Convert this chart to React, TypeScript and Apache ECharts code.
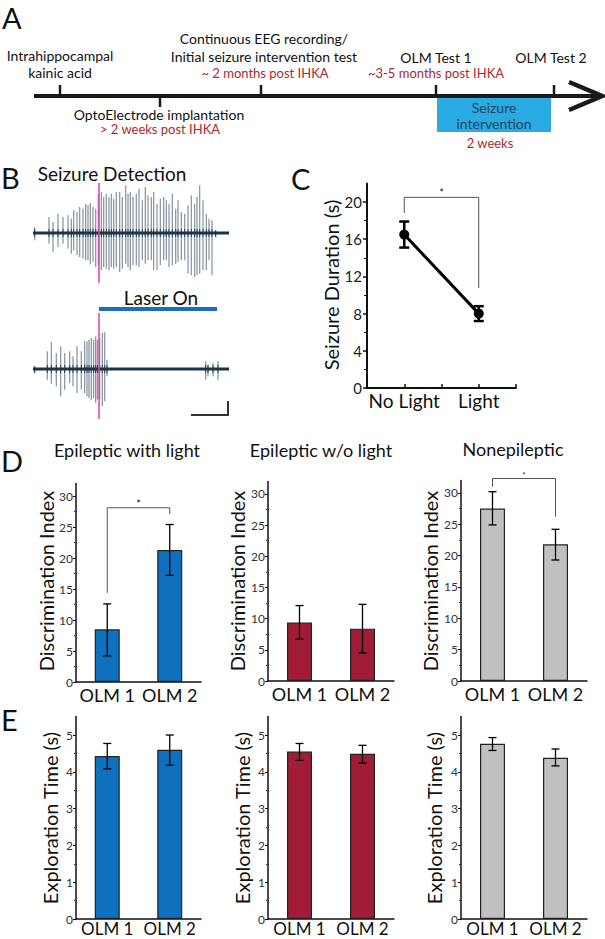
import React, { useEffect, useRef } from 'react';
import * as echarts from 'echarts';

const FONT = 'Lato, "Open Sans", sans-serif';

// ---------- Panel B: EEG traces, each spike = [time, peak, trough] ----------
const traceSpan = [100, 688];
const seizureTrace = [
  [105, 18, -22], [148, 48, -32], [160, 33, -57], [175, 58, -42], [190, 48, -32],
  [205, 53, -47], [215, 43, -62], [222, 68, -52], [232, 63, -67], [240, 78, -72],
  [250, 73, -77], [258, 88, -82], [265, 83, -82], [272, 90, -92], [280, 78, -87],
  [288, 73, -102], [296, 118, -97], [305, 123, -112], [312, 108, -102], [320, 118, -107],
  [328, 108, -112], [335, 118, -102], [342, 103, -107], [350, 123, -102], [360, 123, -117],
  [368, 108, -107], [378, 143, -92], [385, 118, -102], [392, 123, -112], [400, 108, -97],
  [410, 118, -97], [418, 133, -102], [428, 98, -82], [437, 138, -92], [445, 113, -82],
  [455, 108, -82], [462, 123, -112], [472, 88, -112], [482, 103, -97], [492, 108, -82],
  [500, 98, -82], [508, 88, -102], [518, 118, -97], [528, 73, -92], [535, 98, -87],
  [545, 63, -82], [555, 58, -82], [565, 83, -122], [575, 113, -127], [585, 88, -132],
  [592, 108, -127], [600, 143, -122], [610, 98, -112], [620, 58, -112], [628, 43, -82],
  [637, 38, -127], [648, 8, -12],
];
const laserTrace = [
  [105, 8, -12], [143, 53, -32], [155, 80, -44], [170, 48, -52], [183, 68, -82],
  [195, 48, -62], [210, 53, -42], [220, 38, -52], [232, 68, -72], [245, 53, -62],
  [255, 83, -72], [262, 83, -82], [268, 88, -87], [275, 93, -92], [282, 88, -87],
  [288, 98, -102], [293, 88, -92], [300, 93, -92], [308, 108, -112], [315, 110, -97],
  [322, 28, -22], [618, 23, -32], [625, 13, -22], [640, 18, -22], [655, 23, -32],
];
const detectionTime = 296;

// ---------- Panel C ----------
const cCategories = ['No Light', 'Light'];
const cMeans = [16.5, 8.0];
const cErr = [[15.1, 17.9], [7.2, 8.8]];
const cTicks = [0, 4, 8, 12, 16, 20];
const cBracket = [1, 18.8, 20.5, 2, 10.75, 21.3];

// ---------- Panel D: discrimination index ----------
const olmCategories = ['OLM 1', 'OLM 2'];
const diTicks = [0, 5, 10, 15, 20, 25, 30];
const diWithLight = [8.5, 21.3];
const diWithLightErr = [[4.2, 12.6], [17.2, 25.4]];
const diWithoutLight = [9.4, 8.4];
const diWithoutLightErr = [[6.7, 12.1], [4.5, 12.3]];
const diNonEpi = [27.5, 21.8];
const diNonEpiErr = [[24.9, 30.2], [19.3, 24.2]];
const diWithLightBracket = [0, 14.35, 28.1, 1, 27.1, 29.2];
const diNonEpiBracket = [0, 31.0, 32.3, 1, 26.2, 33.4];

// ---------- Panel E: exploration time ----------
const exTicks = [0, 1, 2, 3, 4, 5];
const exWithLight = [4.43, 4.6];
const exWithLightErr = [[4.08, 4.77], [4.18, 5.0]];
const exWithoutLight = [4.55, 4.49];
const exWithoutLightErr = [[4.31, 4.77], [4.24, 4.72]];
const exNonEpi = [4.76, 4.38];
const exNonEpiErr = [[4.58, 4.93], [4.16, 4.62]];

const BLUE = '#0f70bd';
const RED = '#a11c37';
const GRAY = '#c0c0c0';
const TXT_RED = '#b0282c';

function spikeSeries(gi: number, data: number[][]) {
  return {
    type: 'custom', xAxisIndex: gi, yAxisIndex: gi, data, z: 2,
    renderItem: (_p: any, api: any) => {
      const t = api.value(0);
      const top = api.coord([t, api.value(1)]);
      const bot = api.coord([t, api.value(2)]);
      const base = api.coord([t, 0]);
      return {
        type: 'group', children: [
          { type: 'line', shape: { x1: top[0], y1: top[1], x2: bot[0], y2: bot[1] }, style: { stroke: '#8d9aa8', lineWidth: 1.3 } },
          { type: 'line', shape: { x1: base[0], y1: Math.max(top[1], base[1] - 4), x2: base[0], y2: Math.min(bot[1], base[1] + 4) }, style: { stroke: '#2a4256', lineWidth: 1 } },
        ],
      };
    },
  };
}

function baselineSeries(gi: number) {
  return {
    type: 'line', xAxisIndex: gi, yAxisIndex: gi, z: 3,
    data: [[traceSpan[0], 0], [traceSpan[1], 0]],
    symbol: 'none', lineStyle: { color: '#1d3346', width: 3 },
    markLine: {
      symbol: 'none', silent: true, label: { show: false },
      lineStyle: { color: '#d645a6', width: 1.5, type: 'solid' },
      data: [{ xAxis: detectionTime }],
    },
  };
}

function errSeries(gi: number, errs: number[][], lw: number, cap: number) {
  return {
    type: 'custom', xAxisIndex: gi, yAxisIndex: gi, z: 5,
    data: errs.map((e, i) => [i, e[0], e[1]]),
    renderItem: (_p: any, api: any) => {
      const x = api.value(0);
      const lo = api.coord([x, api.value(1)]);
      const hi = api.coord([x, api.value(2)]);
      const st = { stroke: '#000', lineWidth: lw };
      return {
        type: 'group', children: [
          { type: 'line', shape: { x1: lo[0], y1: lo[1], x2: hi[0], y2: hi[1] }, style: st },
          { type: 'line', shape: { x1: hi[0] - cap, y1: hi[1], x2: hi[0] + cap, y2: hi[1] }, style: st },
          { type: 'line', shape: { x1: lo[0] - cap, y1: lo[1], x2: lo[0] + cap, y2: lo[1] }, style: st },
        ],
      };
    },
  };
}

function bracketSeries(gi: number, b: number[], starSize: number) {
  return {
    type: 'custom', xAxisIndex: gi, yAxisIndex: gi, z: 4, clip: false,
    data: [b],
    renderItem: (_p: any, api: any) => {
      const a = api.coord([api.value(0), api.value(1)]);
      const p1 = api.coord([api.value(0), api.value(2)]);
      const p2 = api.coord([api.value(3), api.value(2)]);
      const d = api.coord([api.value(3), api.value(4)]);
      const s = api.coord([api.value(0), api.value(5)]);
      return {
        type: 'group', children: [
          { type: 'polyline', shape: { points: [a, p1, p2, d] }, style: { stroke: '#555', lineWidth: 1, fill: 'none' } },
          { type: 'text', x: (p1[0] + p2[0]) / 2, y: s[1] + 3, style: { text: '*', fontSize: starSize, fill: '#222', align: 'center', verticalAlign: 'middle', fontFamily: FONT } },
        ],
      };
    },
  };
}

function barSeries(gi: number, values: number[], color: string) {
  return {
    type: 'bar', xAxisIndex: gi, yAxisIndex: gi, data: values, barWidth: 25, z: 2,
    itemStyle: { color, borderColor: '#222', borderWidth: 1.2 },
  };
}

function catX(gi: number, margin: number, size: number) {
  return {
    type: 'category', gridIndex: gi, data: olmCategories,
    axisLine: { lineStyle: { color: '#111', width: 1.5 } },
    axisTick: { show: false },
    axisLabel: { interval: 0, hideOverlap: false, fontSize: size, color: '#111', margin, fontFamily: FONT },
  };
}

function valY(gi: number, max: number, interval: number, ticks: number[]) {
  return {
    type: 'value', gridIndex: gi, min: 0, max, interval,
    splitLine: { show: false },
    axisLine: { show: true, lineStyle: { color: '#111', width: 1.5 } },
    axisTick: { show: true, length: 3, customValues: ticks, lineStyle: { color: '#111', width: 1 } },
    minorTick: { show: true, splitNumber: 2, length: 2, lineStyle: { color: '#333', width: 1 } },
    axisLabel: { customValues: ticks, fontSize: 12, color: '#333', margin: 3, fontFamily: FONT },
  };
}

function txt(text: string, x: number, y: number, size: number, color = '#111', align = 'center', extra: any = {}) {
  return { type: 'text', x, y, ...extra, style: { text, fontSize: size, fontFamily: FONT, fill: color, align, verticalAlign: 'middle' } };
}
function vtxt(text: string, x: number, y: number, size: number) {
  return txt(text, x, y, size, '#111', 'center', { rotation: Math.PI / 2 });
}
function seg(x1: number, y1: number, x2: number, y2: number, w: number, color = '#1a1a1a') {
  return { type: 'line', shape: { x1, y1, x2, y2 }, style: { stroke: color, lineWidth: w } };
}

function buildOption() {
  const grids = [
    { left: 33, top: 183, width: 196, height: 100 },
    { left: 33, top: 313, width: 196, height: 106 },
    { left: 367, top: 183.4, width: 149, height: 204.6 },
    { left: 76, top: 483.6, width: 125, height: 198.4 },
    { left: 268, top: 481.5, width: 126, height: 199.5 },
    { left: 461, top: 480.4, width: 126, height: 200.6 },
    { left: 76, top: 716.6, width: 125, height: 202.4 },
    { left: 268, top: 716.6, width: 126, height: 202.4 },
    { left: 461, top: 716.6, width: 126, height: 202.4 },
  ].map((g) => ({ ...g, containLabel: false, outerBoundsMode: 'none' }));

  const xAxis: any[] = [
    { type: 'value', gridIndex: 0, min: traceSpan[0], max: traceSpan[1], show: false },
    { type: 'value', gridIndex: 1, min: traceSpan[0], max: traceSpan[1], show: false },
    {
      type: 'value', gridIndex: 2, min: 0.5, max: 2.5, interval: 0.5,
      splitLine: { show: false },
      axisLine: { lineStyle: { color: '#111', width: 2 } },
      axisTick: { inside: true, length: 4, lineStyle: { color: '#111', width: 1.5 } },
      axisLabel: {
        customValues: [1, 2], fontSize: 19, color: '#111', margin: 3, fontFamily: FONT, hideOverlap: false,
        formatter: (v: number) => cCategories[Math.round(v) - 1] || '',
      },
    },
    catX(3, 4, 18), catX(4, 4, 18), catX(5, 4, 18), catX(6, 1, 17), catX(7, 1, 17), catX(8, 1, 17),
  ];
  const yAxis: any[] = [
    { type: 'value', gridIndex: 0, min: -150, max: 150, show: false },
    { type: 'value', gridIndex: 1, min: -150, max: 168, show: false },
    {
      type: 'value', gridIndex: 2, min: 0, max: 22, interval: 4,
      splitLine: { show: false },
      axisLine: { show: true, lineStyle: { color: '#111', width: 2 } },
      axisTick: { show: true, length: 4, customValues: cTicks, lineStyle: { color: '#111', width: 1.5 } },
      minorTick: { show: true, splitNumber: 2, length: 3, lineStyle: { color: '#111', width: 1 } },
      axisLabel: { customValues: cTicks, fontSize: 15, color: '#222', margin: 5, fontFamily: FONT },
    },
    valY(3, 32, 5, diTicks), valY(4, 32, 5, diTicks), valY(5, 32, 5, diTicks),
    valY(6, 5.5, 1, exTicks), valY(7, 5.5, 1, exTicks), valY(8, 5.5, 1, exTicks),
  ];

  const series: any[] = [
    spikeSeries(0, seizureTrace), baselineSeries(0),
    spikeSeries(1, laserTrace), baselineSeries(1),
    {
      type: 'line', xAxisIndex: 2, yAxisIndex: 2, z: 4,
      data: cMeans.map((v, i) => [i + 1, v]),
      symbol: 'circle', symbolSize: 10,
      lineStyle: { color: '#000', width: 3 }, itemStyle: { color: '#000' },
    },
    {
      type: 'custom', xAxisIndex: 2, yAxisIndex: 2, z: 5,
      data: cErr.map((e, i) => [i + 1, e[0], e[1]]),
      renderItem: (_p: any, api: any) => {
        const x = api.value(0);
        const lo = api.coord([x, api.value(1)]);
        const hi = api.coord([x, api.value(2)]);
        const st = { stroke: '#000', lineWidth: 2.5 };
        return {
          type: 'group', children: [
            { type: 'line', shape: { x1: lo[0], y1: lo[1], x2: hi[0], y2: hi[1] }, style: st },
            { type: 'line', shape: { x1: hi[0] - 5, y1: hi[1], x2: hi[0] + 5, y2: hi[1] }, style: st },
            { type: 'line', shape: { x1: lo[0] - 5, y1: lo[1], x2: lo[0] + 5, y2: lo[1] }, style: st },
          ],
        };
      },
    },
    bracketSeries(2, cBracket, 11),
    barSeries(3, diWithLight, BLUE), errSeries(3, diWithLightErr, 1.3, 4), bracketSeries(3, diWithLightBracket, 11),
    barSeries(4, diWithoutLight, RED), errSeries(4, diWithoutLightErr, 1.3, 4),
    barSeries(5, diNonEpi, GRAY), errSeries(5, diNonEpiErr, 1.3, 4), bracketSeries(5, diNonEpiBracket, 8),
    barSeries(6, exWithLight, BLUE), errSeries(6, exWithLightErr, 1.3, 4),
    barSeries(7, exWithoutLight, RED), errSeries(7, exWithoutLightErr, 1.3, 4),
    barSeries(8, exNonEpi, GRAY), errSeries(8, exNonEpiErr, 1.3, 4),
  ];

  const graphic: any[] = [
    // panel letters
    txt('A', 2, 17, 29, '#111', 'left'),
    txt('B', 1, 177, 29, '#111', 'left'),
    txt('C', 291, 178, 29, '#111', 'left'),
    txt('D', 1, 460, 29, '#111', 'left'),
    txt('E', 1, 719, 29, '#111', 'left'),
    // timeline
    seg(34, 96, 598, 96, 4),
    { type: 'polyline', shape: { points: [[569, 82], [602, 96], [569, 110]] }, style: { stroke: '#1a1a1a', lineWidth: 4.5, fill: 'none', lineJoin: 'miter' } },
    seg(60, 85, 60, 96, 2.5),
    seg(160, 96, 160, 107, 2.5),
    seg(261, 85, 261, 96, 2.5),
    seg(436, 85, 436, 96, 2.5),
    seg(554, 85, 554, 96, 2.5),
    { type: 'rect', shape: { x: 437, y: 98, width: 114, height: 34 }, style: { fill: '#29aae2' } },
    txt('Intrahippocampal', 60, 55, 14),
    txt('kainic acid', 60, 72, 14),
    txt('Continuous EEG recording/', 264, 38, 14),
    txt('Initial seizure intervention test', 264, 56, 14),
    txt('~ 2 months post IHKA', 265, 73, 13, TXT_RED),
    txt('OLM Test 1', 436, 57, 14),
    txt('~3-5 months post IHKA', 436, 73, 13, TXT_RED),
    txt('OLM Test 2', 551, 57, 14),
    txt('OptoElectrode implantation', 159, 114, 14),
    txt('> 2 weeks post IHKA', 160, 129, 13, TXT_RED),
    txt('Seizure', 494, 107, 14, '#23455e'),
    txt('intervention', 494, 123, 14, '#23455e'),
    txt('2 weeks', 490, 143, 13, TXT_RED),
    // panel B annotations
    txt('Seizure Detection', 112, 173, 19),
    txt('Laser On', 161, 297, 19),
    { type: 'rect', shape: { x: 99, y: 307, width: 118, height: 4 }, style: { fill: '#1a6fbd' } },
    seg(191, 415, 229, 415, 2, '#333'),
    seg(228, 401, 228, 416, 2, '#333'),
    // axis names and titles
    vtxt('Seizure Duration (s)', 331, 285, 20),
    txt('Epileptic with light', 127, 450, 18),
    txt('Epileptic w/o light', 321, 450, 18),
    txt('Nonepileptic', 513, 449, 18),
    vtxt('Discrimination Index', 46, 581, 20),
    vtxt('Discrimination Index', 237, 581, 20),
    vtxt('Discrimination Index', 430, 581, 20),
    vtxt('Exploration Time (s)', 50, 818, 20),
    vtxt('Exploration Time (s)', 242, 818, 20),
    vtxt('Exploration Time (s)', 434, 818, 20),
  ];

  return { animation: false, backgroundColor: '#fff', grid: grids, xAxis, yAxis, series, graphic };
}

export default function App() {
  const ref = useRef<HTMLDivElement>(null);
  useEffect(() => {
    document.body.style.margin = '0';
    const chart = echarts.init(ref.current!, null, { renderer: 'svg' });
    chart.setOption(buildOption() as any);
    return () => chart.dispose();
  }, []);
  return <div ref={ref} style={{ position: 'absolute', left: 0, top: 0, width: 605, height: 939, background: '#fff' }} />;
}
